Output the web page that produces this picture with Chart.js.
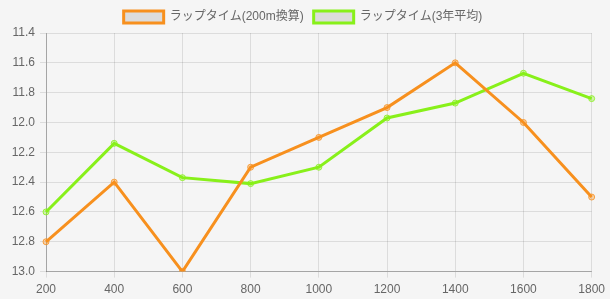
<!DOCTYPE html>
<html>
<head>
<meta charset="utf-8">
<script src="https://cdn.jsdelivr.net/npm/chart.js@4"></script>
<style>
  html, body { margin: 0; padding: 0; background: #f5f5f5; }
  #wrap { width: 610px; height: 299px; }
</style>
</head>
<body>
<div id="wrap"><canvas id="lap"></canvas></div>
<script>
// distances (m)
var distances = ['200', '400', '600', '800', '1000', '1200', '1400', '1600', '1800'];
// lap times converted to 200m
var lap200 = [12.8, 12.4, 13.0, 12.3, 12.1, 11.9, 11.6, 12.0, 12.5];
// 3 year average
var lapAvg = [12.6, 12.14, 12.37, 12.41, 12.3, 11.97, 11.87, 11.67, 11.84];

var yMin = 11.4;
var yMax = 13.0;

Chart.defaults.font.family = "'Liberation Sans', 'Noto Sans CJK JP', sans-serif";
Chart.defaults.font.size = 12;
Chart.defaults.color = '#666';

var ctx = document.getElementById('lap').getContext('2d');
var lapChart = new Chart(ctx, {
    type: 'line',
    data: {
        labels: distances,
        datasets: [
            {
                label: 'ラップタイム(200m換算)',
                data: lap200,
                borderColor: '#f7901e',
                backgroundColor: '#dcdcdc',
                pointBackgroundColor: 'rgba(247, 144, 30, 0.35)',
                pointBorderColor: 'rgba(247, 144, 30, 0.8)',
                borderWidth: 3,
                pointRadius: 3,
                pointBorderWidth: 1,
                tension: 0,
                fill: false
            },
            {
                label: 'ラップタイム(3年平均)',
                data: lapAvg,
                borderColor: '#88f01a',
                backgroundColor: '#dcdcdc',
                pointBackgroundColor: 'rgba(136, 240, 26, 0.35)',
                pointBorderColor: 'rgba(136, 240, 26, 0.8)',
                borderWidth: 3,
                pointRadius: 3,
                pointBorderWidth: 1,
                tension: 0,
                fill: false
            }]
    },
    options: {
        responsive: true,
        maintainAspectRatio: false,
        animation: false,
        layout: { padding: { left: 0, right: 4, top: 1, bottom: -3 } },
        plugins: {
            legend: {
                position: 'top',
                labels: {
                    boxWidth: 40,
                    boxHeight: 12,
                    padding: 10,
                    color: '#666'
                }
            },
            tooltip: { enabled: false }
        },
        scales: {
            x: {
                grid: { color: 'rgba(0,0,0,0.1)', drawTicks: true, tickLength: 6 },
                border: { color: 'rgba(0,0,0,0.25)' },
                ticks: { padding: 5 }
            },
            y: {
                reverse: true,
                min: yMin,
                max: yMax,
                afterFit: function (scale) { scale.width = 46; },
                grid: { color: 'rgba(0,0,0,0.1)', tickLength: 6 },
                border: { color: 'rgba(0,0,0,0.25)' },
                ticks: {
                    stepSize: 0.2,
                    padding: 5,
                    callback: function (v) { return Number(v).toFixed(1); }
                }
            }
        }
    }
});
</script>
</body>
</html>
